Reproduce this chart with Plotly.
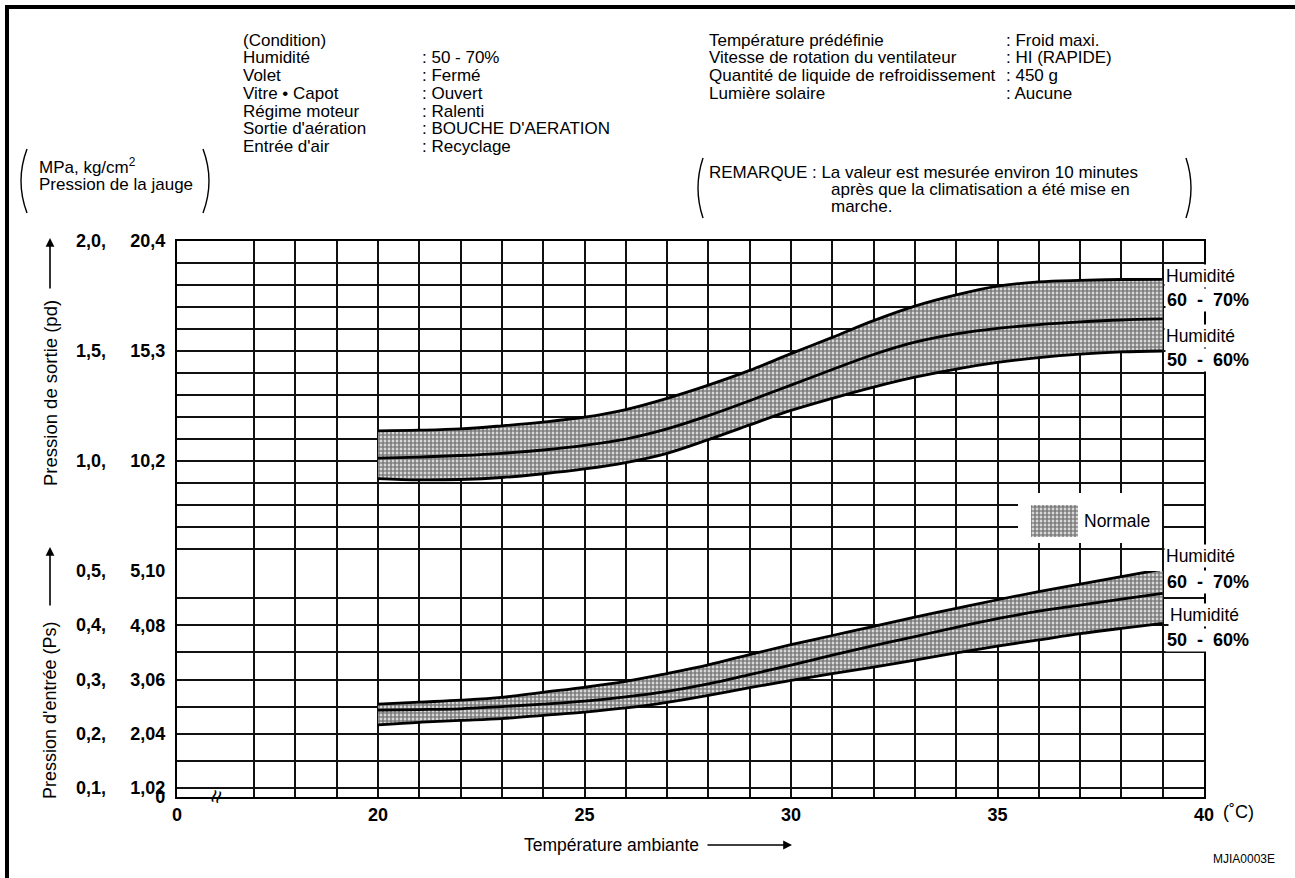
import plotly.graph_objects as go
from plotly.subplots import make_subplots

# ---------------- data ----------------
temps = [20, 21, 22, 23, 24, 25, 26, 27, 28, 29, 30, 31, 32, 33, 34, 35, 36, 37, 38, 39]

# discharge pressure pd (MPa)
pd_top = [1.137, 1.140, 1.146, 1.160, 1.177, 1.199, 1.234, 1.285, 1.345, 1.412,
          1.488, 1.562, 1.638, 1.704, 1.755, 1.795, 1.814, 1.821, 1.825, 1.826]
pd_mid = [1.013, 1.018, 1.025, 1.035, 1.050, 1.071, 1.100, 1.146, 1.206, 1.274,
          1.345, 1.416, 1.484, 1.540, 1.578, 1.603, 1.620, 1.632, 1.641, 1.646]
pd_bot = [0.920, 0.914, 0.916, 0.925, 0.942, 0.964, 0.993, 1.035, 1.097, 1.164,
          1.230, 1.285, 1.336, 1.381, 1.418, 1.448, 1.470, 1.486, 1.496, 1.500]

# suction pressure Ps (MPa)
ps_top = [0.2545, 0.2582, 0.2618, 0.2670, 0.2764, 0.2855, 0.2964, 0.3110, 0.3270, 0.3460,
          0.3642, 0.3811, 0.3981, 0.4150, 0.4310, 0.4470, 0.4621, 0.4759, 0.4897, 0.5034]
ps_mid = [0.2436, 0.2445, 0.2460, 0.2500, 0.2545, 0.2600, 0.2680, 0.2782, 0.2920, 0.3090,
          0.3264, 0.3450, 0.3623, 0.3792, 0.3962, 0.4120, 0.4259, 0.4370, 0.4483, 0.4586]
ps_bot = [0.2164, 0.2210, 0.2245, 0.2280, 0.2340, 0.2400, 0.2475, 0.2580, 0.2709, 0.2850,
          0.2982, 0.3110, 0.3230, 0.3358, 0.3490, 0.3615, 0.3730, 0.3845, 0.3943, 0.4034]

x_tick_vals = [20, 25, 30, 35, 40]
x_tick_text = ["20", "25", "30", "35", "40"]
x_minor_vals = [17, 18, 19, 21, 22, 23, 24, 26, 27, 28, 29, 31, 32, 33, 34, 36, 37, 38, 39]

pd_tick_vals = [1.0, 1.5, 2.0]
pd_kg_text = ["10,2", "15,3", "20,4"]
pd_mpa_text = ["1,0,", "1,5,", "2,0,"]

ps_tick_vals = [0.1, 0.2, 0.3, 0.4, 0.5]
ps_kg_text = ["1,02", "2,04", "3,06", "4,08", "5,10"]
ps_mpa_text = ["0,1,", "0,2,", "0,3,", "0,4,", "0,5,"]

cond_labels = ["(Condition)", "Humidité", "Volet", "Vitre • Capot", "Régime moteur",
               "Sortie d'aération", "Entrée d'air"]
cond_values = ["", ": 50 - 70%", ": Fermé", ": Ouvert", ": Ralenti",
               ": BOUCHE D'AERATION", ": Recyclage"]
set_labels = ["Température prédéfinie", "Vitesse de rotation du ventilateur",
              "Quantité de liquide de refroidissement", "Lumière solaire"]
set_values = [": Froid maxi.", ": HI (RAPIDE)", ": 450 g", ": Aucune"]
remark_lines = ["REMARQUE : La valeur est mesurée environ 10 minutes",
                "après que la climatisation a été mise en", "marche."]

# ---------------- geometry ----------------
W, H = 1295, 878
L, R, T, B = 177, 1204, 241, 797          # plot area in pixels
X_ZERO = 15.133                           # axis position of the broken "0"
Y_ZERO = 0.0834                           # axis position of the broken "0" (Ps)
FONT = "Liberation Sans, Arial, Helvetica, sans-serif"

def px(x):
    return (x - L) / (R - L)

def py(y):
    return (B - y) / (B - T)

def tx(x):      # pixel -> temperature axis
    return X_ZERO + (x - L) * (40 - X_ZERO) / (R - L)

def vy(y):      # pixel -> upper axis value
    return 2.0 - (y - T) * 1.5 / 330.0

upper_h = 330 / 556
fig = make_subplots(rows=2, cols=1, shared_xaxes=True, vertical_spacing=0,
                    row_heights=[upper_h, 1 - upper_h])

pattern = dict(shape=".", size=4, solidity=0.75, fgcolor="black", bgcolor="white")

def band(top, mid, bot, row):
    fig.add_trace(go.Scatter(x=temps, y=bot, mode="lines", line=dict(width=0, shape="spline"),
                             showlegend=False, hoverinfo="skip"), row=row, col=1)
    fig.add_trace(go.Scatter(x=temps, y=top, mode="lines", line=dict(width=0, shape="spline"),
                             fill="tonexty", fillcolor="rgba(0,0,0,0)", fillpattern=pattern,
                             showlegend=False, hoverinfo="skip"), row=row, col=1)
    for s in (top, mid, bot):
        fig.add_trace(go.Scatter(x=temps, y=s, mode="lines",
                                 line=dict(color="black", width=2.8, shape="spline"),
                                 showlegend=False, hoverinfo="skip"), row=row, col=1)

band(pd_top, pd_mid, pd_bot, 1)
band(ps_top, ps_mid, ps_bot, 2)

# legend swatch "Normale"
sx0, sx1, sy0, sy1 = tx(1031), tx(1078), vy(537), vy(505)
fig.add_trace(go.Scatter(x=[sx0, sx1, sx1, sx0, sx0], y=[sy0, sy0, sy1, sy1, sy0],
                         mode="lines", line=dict(width=0), fill="toself",
                         fillcolor="rgba(0,0,0,0)", fillpattern=pattern,
                         showlegend=False, hoverinfo="skip"), row=1, col=1)

GRID = dict(showgrid=True, gridcolor="#111111", gridwidth=1.7)
LINE = dict(showline=True, linecolor="black", linewidth=2.2)

for r in (1, 2):
    fig.update_xaxes(range=[X_ZERO, 40], tickmode="array",
                     tickvals=[X_ZERO] + x_tick_vals, ticktext=["0"] + x_tick_text,
                     ticks="", zeroline=False,
                     minor=dict(tickmode="array", tickvals=x_minor_vals, showgrid=True,
                                gridcolor="#111111", gridwidth=1.7, ticks=""),
                     tickfont=dict(family=FONT, size=18, color="black", weight="bold"),
                     **GRID, **LINE, mirror=False, row=r, col=1)
fig.update_xaxes(showticklabels=False, side="top", row=1, col=1)

fig.update_yaxes(range=[0.5, 2.0], tickmode="array", tickvals=pd_tick_vals, ticktext=pd_kg_text,
                 minor=dict(tick0=0, dtick=0.1, showgrid=True, gridcolor="#111111", gridwidth=1.7),
                 row=1, col=1)
fig.update_yaxes(range=[Y_ZERO, 0.5], tickmode="array", tickvals=[Y_ZERO] + ps_tick_vals,
                 ticktext=["0"] + ps_kg_text,
                 minor=dict(tick0=0, dtick=0.05, showgrid=True, gridcolor="#111111", gridwidth=1.7),
                 row=2, col=1)
fig.update_yaxes(ticks="", zeroline=False, ticklabelstandoff=6, mirror=True,
                 tickfont=dict(family=FONT, size=18, color="black", weight="bold"),
                 **GRID, **LINE)

ann = []

def text(t, x, y, size=17, bold=False, xanchor="left", **kw):
    d = dict(text=t, x=px(x), y=py(y), xref="paper", yref="paper", xanchor=xanchor,
             yanchor="middle", showarrow=False,
             font=dict(family=FONT, size=size, color="black", weight="bold" if bold else "normal"))
    d.update(kw)
    ann.append(d)

# MPa column of the pressure scales
for v, t in zip(pd_tick_vals, pd_mpa_text):
    ann.append(dict(text=t, x=px(108), xref="paper", xanchor="right", y=v, yref="y",
                    showarrow=False, font=dict(family=FONT, size=18, color="black", weight="bold")))
for v, t in zip(ps_tick_vals, ps_mpa_text):
    ann.append(dict(text=t, x=px(108), xref="paper", xanchor="right", y=v, yref="y2",
                    showarrow=False, font=dict(family=FONT, size=18, color="black", weight="bold")))

# header blocks
pitch = 17.8
for i, (lab, val) in enumerate(zip(cond_labels, cond_values)):
    text(lab, 241, 40 + i * pitch)
    if val:
        text(val, 420, 40 + i * pitch)
for i, (lab, val) in enumerate(zip(set_labels, set_values)):
    text(lab, 707, 40 + i * pitch)
    text(val, 1004, 40 + i * pitch)
text(remark_lines[0], 707, 172)
text(remark_lines[1], 829, 189.5)
text(remark_lines[2], 829, 207)

text("MPa, kg/cm<sup>2</sup>", 37, 166)
text("Pression de la jauge", 37, 185)

# axis titles
text("Pression de sortie (pd)", 50, 393, size=18.5, xanchor="center", textangle=-90)
text("Pression d'entrée (Ps)", 50, 710, size=18, xanchor="center", textangle=-90)
text("Température ambiante", 611, 845, size=17.5, xanchor="center")
text("(˚C)", 1221, 812, size=18)
text("MJIA0003E", 1277, 859, size=12, xanchor="right")

# arrows
for (hx, hy, ax, ay) in [(50, 238, 0, 52), (50, 547, 0, 60), (792, 845, -86, 0)]:
    ann.append(dict(x=px(hx), y=py(hy), xref="paper", yref="paper", text="", showarrow=True,
                    ax=ax, ay=ay, arrowhead=2, arrowsize=1.1, arrowwidth=1.6, arrowcolor="black"))

# axis break mark
text("≈", 215, 797, size=24, xanchor="center", textangle=-75)

# humidity labels
hum = [(1164, 276, "Humidité", False), (1165, 300, "60 - 70%", True),
       (1164, 336, "Humidité", False), (1165, 360, "50 - 60%", True),
       (1164, 556, "Humidité", False), (1165, 582, "60 - 70%", True),
       (1168, 615, "Humidité", False), (1165, 640, "50 - 60%", True)]
for x, y, t, b in hum:
    text(t.replace(" - ", "  -  "), x, y, size=18 if b else 17.5, bold=b,
         bgcolor="white", borderpad=1)

# legend label
text("Normale", 1082, 521, size=17.5)

shapes = []
# white mask behind legend (between gridlines and traces)
shapes.append(dict(type="rect", xref="x", yref="y", x0=tx(1018), x1=tx(1162),
                   y0=vy(543), y1=vy(493), fillcolor="white", line=dict(width=0),
                   layer="between"))

# brackets
def bracket(x_end, x_mid, y0, y1):
    ym = (y0 + y1) / 2
    cx = 2 * x_mid - x_end
    return dict(type="path", xref="paper", yref="paper",
                path=f"M {px(x_end)},{py(y0)} Q {px(cx)},{py(ym)} {px(x_end)},{py(y1)}",
                line=dict(color="black", width=1.4))

shapes += [bracket(27, 21, 149, 213), bracket(203, 209, 149, 213),
           bracket(703, 698, 158, 218), bracket(1186, 1191, 158, 218)]

# page frame (top and left)
shapes.append(dict(type="line", xref="paper", yref="paper", x0=px(5), x1=px(1300),
                   y0=py(7), y1=py(7), line=dict(color="black", width=4)))
shapes.append(dict(type="line", xref="paper", yref="paper", x0=px(7), x1=px(7),
                   y0=py(5), y1=py(880), line=dict(color="black", width=4)))

fig.update_layout(width=W, height=H, autosize=False,
                  margin=dict(l=L, r=W - R, t=T, b=H - B),
                  paper_bgcolor="white", plot_bgcolor="white",
                  showlegend=False, annotations=ann, shapes=shapes, hovermode=False,
                  font=dict(family=FONT, color="black"))

fig.write_html("out.html", config={"displayModeBar": False},
               post_script="document.body.style.margin='0px';")
